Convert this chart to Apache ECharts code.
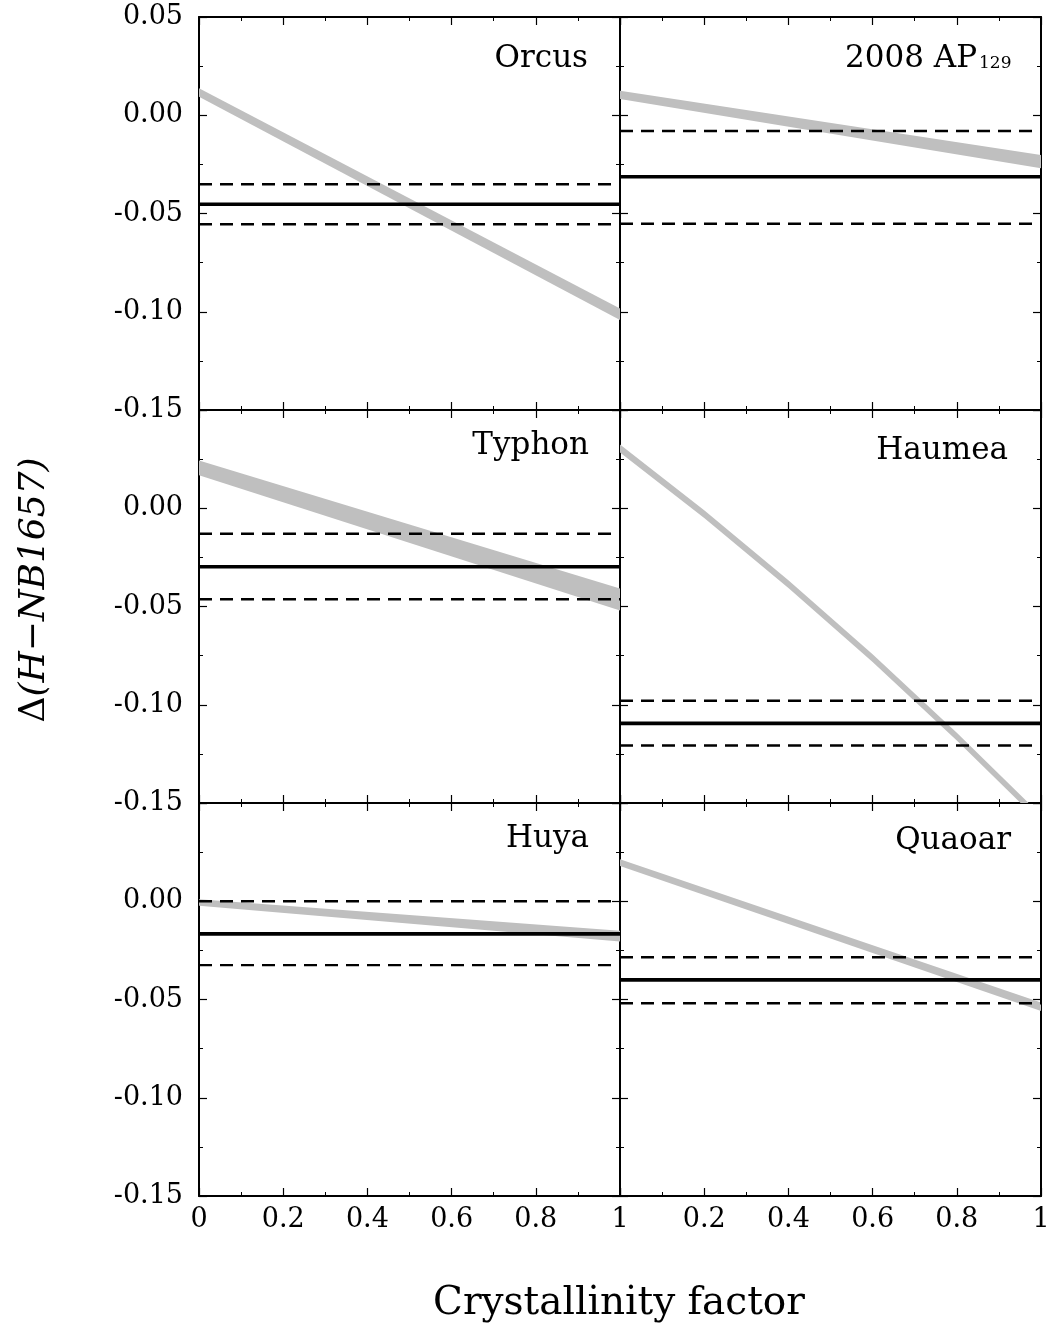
<!DOCTYPE html>
<html>
<head>
<meta charset="utf-8">
<script src="https://cdn.jsdelivr.net/npm/echarts@6/dist/echarts.min.js"></script>
<style>
  html, body { margin: 0; padding: 0; background: #fff; }
  #chart { width: 1053px; height: 1330px; }
</style>
</head>
<body>
<div id="chart"></div>
<script>
// ---------------- DATA ----------------
const panelNames = ['Orcus', '2008 AP', 'Typhon', 'Haumea', 'Huya', 'Quaoar'];
const panelSubscripts = ['', '129', '', '', '', ''];

const xTicks = [0, 0.2, 0.4, 0.6, 0.8, 1];
const yTicks = [-0.15, -0.10, -0.05, 0.00, 0.05];

// model bands (crystallinity factor vs Δ), lower and upper edge
const orcusX = [0, 1];
const orcusLow = [0.0094, -0.1042];
const orcusHigh = [0.0137, -0.0983];

const ap129X = [0, 1];
const ap129Low = [0.0083, -0.0270];
const ap129High = [0.0125, -0.0202];

const typhonX = [0, 1];
const typhonLow = [0.0168, -0.0520];
const typhonHigh = [0.0243, -0.0408];

const haumeaX = [0, 0.2, 0.4, 0.6, 0.8, 1.0];
const haumeaLow = [0.0284, -0.0050, -0.0406, -0.0783, -0.1182, -0.1602];
const haumeaHigh = [0.0324, -0.0010, -0.0366, -0.0743, -0.1142, -0.1562];

const huyaX = [0, 1];
const huyaLow = [-0.0023, -0.0205];
const huyaHigh = [0.0010, -0.0150];

const quaoarX = [0, 1];
const quaoarLow = [0.0180, -0.0558];
const quaoarHigh = [0.0214, -0.0515];

// measured value (solid) and its error bounds (dashed)
const measured = [-0.0453, -0.0313, -0.0298, -0.1095, -0.0166, -0.0400];
const errUpper = [-0.0351, -0.0080, -0.0130, -0.0980, 0.0000, -0.0285];
const errLower = [-0.0555, -0.0552, -0.0463, -0.1207, -0.0325, -0.0519];

const bandsX = [orcusX, ap129X, typhonX, haumeaX, huyaX, quaoarX];
const bandsLow = [orcusLow, ap129Low, typhonLow, haumeaLow, huyaLow, quaoarLow];
const bandsHigh = [orcusHigh, ap129High, typhonHigh, haumeaHigh, huyaHigh, quaoarHigh];

// ---------------- LAYOUT ----------------
const FONT = "'DejaVu Serif', serif";
const colLeft = [199, 620];
const colWidth = 421;
const rowTop = [17, 410, 803];
const rowHeight = 393;
// title anchors: right edge x, vertical middle y
const titleAnchor = [[588, 58.5], [977, 58.5], [589, 445.5], [1008, 451], [589, 838.5], [1011, 840.5]];

const chart = echarts.init(document.getElementById('chart'), null, { renderer: 'canvas' });

const grids = [], xAxes = [], yAxes = [], series = [];

function fmtY(row) {
  return function (v) {
    if (row > 0 && Math.abs(v - 0.05) < 1e-9) return '';
    if (Math.abs(v) < 1e-9) return '0.00';
    return v.toFixed(2);
  };
}
function fmtX(col) {
  return function (v) {
    if (Math.abs(v) < 1e-9) return col === 1 ? '' : '0';
    if (Math.abs(v - 1) < 1e-9) return '1';
    return v.toFixed(1);
  };
}

const axisLineStyle = { show: true, onZero: false, lineStyle: { color: '#000', width: 2 } };
const tickStyle = { show: true, inside: true, length: 8, lineStyle: { color: '#000', width: 1.2 } };
const minorStyle = { show: true, splitNumber: 2, length: 4, lineStyle: { color: '#000', width: 1 } };

for (let i = 0; i < 6; i++) {
  const row = Math.floor(i / 2), col = i % 2;
  grids.push({ left: colLeft[col], top: rowTop[row], width: colWidth, height: rowHeight, containLabel: false });
  const xBase = {
    type: 'value', gridIndex: i, min: xTicks[0], max: xTicks[xTicks.length - 1], interval: 0.2,
    axisLine: axisLineStyle, axisTick: tickStyle, minorTick: minorStyle,
    splitLine: { show: false }, minorSplitLine: { show: false }
  };
  xAxes.push(Object.assign({}, xBase, {
    position: 'bottom',
    axisLabel: {
      show: row === 2, formatter: fmtX(col), color: '#000', fontFamily: FONT, fontSize: 27, margin: 10,
      showMinLabel: true, showMaxLabel: true
    }
  }));
  xAxes.push(Object.assign({}, xBase, { position: 'top', axisLabel: { show: false } }));
  const yBase = {
    type: 'value', gridIndex: i, min: yTicks[0], max: yTicks[yTicks.length - 1], interval: 0.05,
    axisLine: axisLineStyle, axisTick: tickStyle, minorTick: minorStyle,
    splitLine: { show: false }, minorSplitLine: { show: false }
  };
  yAxes.push(Object.assign({}, yBase, {
    position: 'left',
    axisLabel: {
      show: col === 0, formatter: fmtY(row), color: '#000', fontFamily: FONT, fontSize: 27, margin: 16,
      showMinLabel: true, showMaxLabel: true
    }
  }));
  yAxes.push(Object.assign({}, yBase, { position: 'right', axisLabel: { show: false } }));

  // gray model band
  const bx = bandsX[i], bl = bandsLow[i], bh = bandsHigh[i];
  const bandData = bx.map((x, k) => [x, bl[k], bh[k]]);
  series.push({
    type: 'custom', xAxisIndex: 2 * i, yAxisIndex: 2 * i, clip: true, silent: true, z: 1,
    encode: { x: 0, y: [1, 2] },
    data: bandData,
    renderItem: function (params, api) {
      if (params.dataIndex !== 0) return null;
      const pts = [];
      for (let k = 0; k < bandData.length; k++) pts.push(api.coord([bandData[k][0], bandData[k][2]]));
      for (let k = bandData.length - 1; k >= 0; k--) pts.push(api.coord([bandData[k][0], bandData[k][1]]));
      return { type: 'polygon', shape: { points: pts }, style: { fill: '#bfbfbf', stroke: null } };
    }
  });

  const lineBase = { type: 'line', xAxisIndex: 2 * i, yAxisIndex: 2 * i, symbol: 'none', silent: true, z: 3, animation: false };
  series.push(Object.assign({}, lineBase, {
    data: [[0, measured[i]], [1, measured[i]]],
    lineStyle: { color: '#000', width: 3.6, type: 'solid', cap: 'butt' }
  }));
  series.push(Object.assign({}, lineBase, {
    data: [[0, errUpper[i]], [1, errUpper[i]]],
    lineStyle: { color: '#000', width: 2.4, type: [13, 8], cap: 'butt' }
  }));
  series.push(Object.assign({}, lineBase, {
    data: [[0, errLower[i]], [1, errLower[i]]],
    lineStyle: { color: '#000', width: 2.4, type: [13, 8], cap: 'butt' }
  }));
}

const graphics = [];
for (let i = 0; i < 6; i++) {
  const a = titleAnchor[i];
  graphics.push({
    type: 'text', x: a[0], y: a[1], silent: true,
    style: { text: panelNames[i], fill: '#000', font: '31px ' + FONT, align: 'right', verticalAlign: 'middle', textAlign: 'right', textVerticalAlign: 'middle' }
  });
  if (panelSubscripts[i]) {
    graphics.push({
      type: 'text', x: a[0] + 2, y: a[1] + 5, silent: true,
      style: { text: panelSubscripts[i], fill: '#000', font: '17px ' + FONT, align: 'left', verticalAlign: 'middle', textAlign: 'left', textVerticalAlign: 'middle' }
    });
  }
}
// axis titles
graphics.push({
  type: 'text', x: 619, y: 1304, silent: true,
  style: { text: 'Crystallinity factor', fill: '#000', font: '39px ' + FONT, align: 'center', verticalAlign: 'middle', textAlign: 'center', textVerticalAlign: 'middle' }
});
graphics.push({
  type: 'text', x: 35, y: 590, rotation: Math.PI / 2, silent: true,
  style: {
    text: '{n|Δ}{i|(H−NB1657)}', fill: '#000', align: 'center', verticalAlign: 'middle', textAlign: 'center', textVerticalAlign: 'middle',
    rich: {
      n: { fontFamily: FONT, fontSize: 36, fill: '#000', color: '#000' },
      i: { fontFamily: FONT, fontSize: 36, fontStyle: 'italic', fill: '#000', color: '#000' }
    }
  }
});

chart.setOption({
  animation: false,
  backgroundColor: '#fff',
  grid: grids,
  xAxis: xAxes,
  yAxis: yAxes,
  series: series,
  graphic: graphics
});
</script>
</body>
</html>
